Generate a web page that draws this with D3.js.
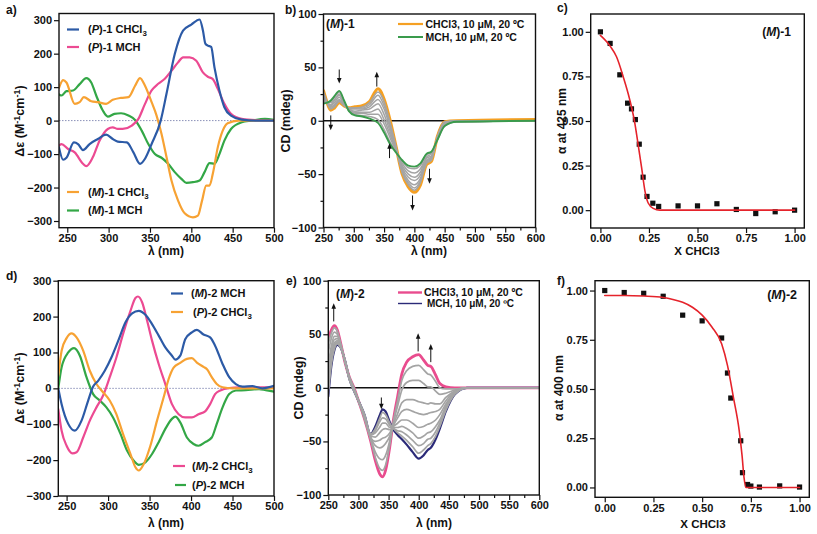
<!DOCTYPE html>
<html><head><meta charset="utf-8">
<script src="https://cdn.jsdelivr.net/npm/d3@7"></script>
<style>
body{margin:0;background:#fff}
svg{display:block}
text{font-family:"Liberation Sans",Arial,sans-serif;font-weight:bold;fill:#111}
</style>
</head><body>
<svg id="c" width="817" height="534"></svg>
<script>
// ---------------- Panel a ----------------
const aTicksX = [250, 300, 350, 400, 450, 500];
const aTicksY = [-300, -200, -100, 0, 100, 200, 300];
const aP1CHCl3_nm = [240,245,249,258,263,269,277,287,297,305,311,322,330,338,344,352,363,370,380,390,400,410,414,417,420,424,428,434,440,448,461,480,500];
const aP1CHCl3    = [-80,-117,-111,-65,-70,-88,-70,-55,-42,-55,-63,-65,-95,-129,-114,-70,0,80,199,269,287,302,270,230,224,220,159,90,40,15,3,0,0];
const aP1MCH_nm = [240,243,251,259,269,273,281,289,299,305,311,317,328,336,344,352,360,368,376,384,390,398,406,414,420,426,432,440,448,461,480,500];
const aP1MCH    = [-75,-70,-85,-95,-129,-136,-109,-60,-25,-20,-25,-25,-15,5,50,90,110,125,149,174,189,189,179,144,131,124,95,50,20,5,1,0];
const aM1CHCl3_nm = [240,245,249,259,265,270,279,287,297,305,315,324,332,338,344,352,358,364,370,376,384,392,402,408,413,418,422,426,432,438,444,457,480,500];
const aM1CHCl3    = [98,121,114,50,55,70,58,55,50,62,68,70,104,127,104,55,15,-40,-109,-179,-239,-277,-289,-284,-239,-194,-194,-159,-80,-30,-8,0,0,0];
const aM1MCH_nm = [240,243,249,257,265,273,279,285,293,299,307,315,324,332,340,348,356,364,372,380,388,394,402,410,416,422,428,434,440,448,461,473,489,500];
const aM1MCH    = [78,75,88,90,109,127,114,75,30,12,20,22,15,2,-30,-70,-100,-111,-129,-154,-174,-186,-184,-179,-154,-127,-129,-100,-60,-25,-5,0,5,2];

// ---------------- Panel b ----------------
const bTicksX = [250, 300, 350, 400, 450, 500, 550, 600];
const bTicksY = [-100, -50, 0, 50, 100];
const bWavelength = [250,256,262,268,276,284,292,302,314,326,340,350,360,370,380,390,400,410,420,428,438,450,470,600];
const bCHCl3 = [28,17,10,12,17,14,12,13,14,18,30,20,0,-25,-50,-62,-67,-60,-41,-38,-15,-1,0,1];
const bMCH   = [16,17,19,23,28,19,9,5,4,2,-2,-11,-22,-30,-37,-42,-43,-40,-31,-29,-18,-5,-1,0];
const bTitration = [
  [17,17,18,22,27,18,9,6,5,4,1,-8,-20,-29,-38,-44,-45,-42,-32,-30,-18,-5,-1,0],
  [19,17,17,20,25,18,10,7,7,6,6,-3,-16,-29,-40,-47,-49,-45,-34,-31,-17,-4,-1,0],
  [21,17,15,19,24,17,10,8,8,8,11,1,-13,-28,-42,-50,-53,-48,-35,-33,-17,-3,-1,0],
  [23,17,14,17,22,16,11,9,10,11,16,6,-10,-27,-44,-53,-56,-51,-37,-34,-16,-3,0,0],
  [24,17,13,15,20,16,11,11,11,13,20,11,-7,-27,-46,-56,-60,-54,-38,-35,-16,-2,0,0],
  [26,17,12,14,19,15,12,12,12,15,24,14,-4,-26,-48,-58,-63,-56,-39,-36,-15,-2,0,0],
  [27,17,11,13,18,14,12,12,13,17,27,18,-2,-25,-49,-60,-65,-58,-40,-37,-15,-1,0,0]
];
const bArrows = [[262,5,-9],[276,48,35],[338,32,46],[359,-35,-21],[397,-70,-84],[425,-45,-59]];

// ---------------- Panel c ----------------
const cTicks = [0, 0.25, 0.5, 0.75, 1.0];
const cX = [0,0.05,0.1,0.14,0.16,0.18,0.2,0.22,0.24,0.27,0.3,0.4,0.5,0.6,0.7,0.8,0.9,1.0];
const cY = [1.0,0.935,0.759,0.60,0.568,0.508,0.37,0.185,0.077,0.039,0.021,0.024,0.024,0.036,0.004,-0.019,-0.009,0.0];
const cFitX = [0,0.05,0.083,0.117,0.151,0.177,0.194,0.212,0.229,0.246,0.272,0.306,0.5,1.0];
const cFitY = [0.98,0.92,0.86,0.75,0.62,0.49,0.37,0.24,0.11,0.04,0.01,0.0,0.0,0.0];

// ---------------- Panel d ----------------
const dTicksX = [250, 300, 350, 400, 450, 500];
const dTicksY = [-300, -200, -100, 0, 100, 200, 300];
const dM2MCH_nm = [240,244,252,260,268,276,282,288,296,304,313,321,329,337,345,353,361,369,377,381,387,393,401,407,415,423,429,438,446,454,462,474,486,500];
const dM2MCH    = [0,-44,-99,-118,-90,-34,5,21,49,86,137,184,209,216,205,179,147,114,91,80,91,137,156,163,150,142,119,68,31,12,5,6,0,7];
const dP2CHCl3_nm = [240,244,250,256,262,270,278,286,294,302,310,318,327,333,337,343,351,359,367,373,379,387,395,401,407,415,419,425,431,438,450,500];
const dP2CHCl3    = [35,105,140,153,142,105,49,12,-11,-34,-72,-127,-183,-220,-229,-211,-160,-90,-25,26,58,71,82,84,72,60,54,31,12,3,0,0];
const dM2CHCl3_nm = [240,244,250,257,262,270,278,286,294,302,310,318,327,333,336,341,347,353,361,369,377,385,393,401,409,417,423,429,436,446,458,500];
const dM2CHCl3    = [-58,-118,-160,-181,-178,-137,-90,-53,-20,31,86,151,216,252,256,240,189,133,68,12,-44,-72,-81,-81,-72,-64,-44,-16,-5,1,3,3];
const dP2MCH_nm = [240,244,252,259,266,274,282,290,298,306,315,323,331,337,345,353,361,369,377,381,387,395,403,409,417,425,431,438,446,454,466,482,490,500];
const dP2MCH    = [0,59,100,112,91,31,-16,-34,-53,-81,-127,-174,-202,-213,-206,-183,-150,-113,-85,-79,-95,-137,-155,-160,-150,-137,-99,-53,-16,-6,-5,-2,-5,-9];

// ---------------- Panel e ----------------
const eTicksX = [250, 300, 350, 400, 450, 500, 550, 600];
const eTicksY = [-100, -50, 0, 50, 100];
const eWavelength = [250,255,260,265,270,278,285,292,300,310,320,328,335,340,345,352,358,365,372,380,390,400,408,415,420,428,435,445,460,480,600];
const eCHCl3 = [46,54,58,54,43,23,10,1,-12,-29,-49,-68,-80,-83,-77,-55,-30,-8,13,24,29,31,26,21,20,12,4,1,0,0,0];
const eMCH   = [-8,20,35,40,38,25,8,-2,-12,-25,-43,-36,-26,-20,-22,-32,-39,-44,-48,-53,-60,-66,-63,-58,-56,-48,-38,-22,-6,0,0];
const eTitration = [
  [41,51,56,53,42,23,10,1,-12,-29,-48,-65,-75,-77,-72,-53,-31,-12,7,16,20,21,17,13,12,6,0,-1,-1,0,0],
  [33,46,52,50,42,24,10,0,-12,-28,-47,-60,-66,-67,-63,-49,-32,-17,-2,5,7,7,4,1,1,-3,-6,-5,-2,0,0],
  [22,39,48,48,41,24,9,0,-12,-27,-46,-54,-56,-55,-52,-45,-34,-24,-14,-11,-11,-13,-14,-15,-14,-15,-15,-9,-3,0,0],
  [15,35,45,46,40,24,9,-1,-12,-27,-46,-50,-49,-47,-46,-42,-35,-28,-22,-20,-22,-24,-25,-24,-23,-22,-20,-12,-3,0,0],
  [8,30,42,44,40,24,9,-1,-12,-26,-45,-46,-42,-39,-38,-39,-36,-33,-30,-30,-33,-37,-36,-34,-33,-30,-25,-15,-4,0,0],
  [3,27,40,43,39,25,8,-1,-12,-26,-44,-42,-37,-33,-33,-37,-37,-37,-36,-38,-42,-47,-45,-42,-41,-36,-30,-17,-5,0,0],
  [-2,24,38,42,39,25,8,-2,-12,-25,-44,-40,-32,-28,-29,-35,-38,-40,-41,-44,-49,-54,-52,-48,-47,-41,-33,-19,-5,0,0],
  [-5,22,36,41,38,25,8,-2,-12,-25,-43,-38,-29,-23,-25,-33,-38,-42,-45,-49,-55,-61,-58,-54,-52,-45,-36,-21,-6,0,0]
];
const eArrows = [[259,62,79],[338,-9,-20],[399,34,51],[420,24,41]];

// ---------------- Panel f ----------------
const fTicks = [0, 0.25, 0.5, 0.75, 1.0];
const fX = [0,0.1,0.2,0.3,0.4,0.5,0.6,0.63,0.647,0.698,0.707,0.733,0.75,0.794,0.898,1.0];
const fY = [1.0,0.99,0.986,0.971,0.875,0.846,0.759,0.581,0.454,0.237,0.075,0.015,0.007,0.002,0.008,0.002];
const fFitX = [0,0.1,0.2,0.3,0.35,0.4,0.45,0.5,0.55,0.6,0.63,0.66,0.69,0.705,0.715,0.725,0.75,1.0];
const fFitY = [0.975,0.975,0.972,0.965,0.955,0.94,0.915,0.875,0.815,0.73,0.62,0.46,0.29,0.16,0.05,0.0,0.0,0.0];

// colours
const C = {blue:'#2c5aa6', pink:'#ec4a92', orange:'#f7a233', green:'#33a746',
           bOrange:'#f5a023', bGreen:'#3a9b4c', ePink:'#e94c8e', eNavy:'#2b2a78',
           grey:'#a4a4a4', red:'#e5232b'};

const svg = d3.select('#c');
svg.append('rect').attr('width',817).attr('height',534).attr('fill','#fff');
const defs = svg.append('defs');
let clipId = 0;

function rich(sel, parts) {
  let shift = 0;
  parts.forEach(p => {
    const t = p[0], s = p[1];
    const ts = sel.append('tspan').text(t);
    let target = 0;
    if (s === 'sub') target = 3;
    if (s === 'sup') target = -4;
    if (target !== shift) { ts.attr('dy', target - shift); shift = target; }
    if (s === 'sub' || s === 'sup') ts.attr('font-size', '0.72em');
    if (s === 'i') ts.attr('font-style', 'italic');
  });
}

function panel(o) {
  const x = d3.scaleLinear().domain(o.xd).range([o.l, o.r]);
  const y = d3.scaleLinear().domain(o.yd).range([o.b, o.t]);
  const g = svg.append('g');
  const id = 'clip' + (clipId++);
  defs.append('clipPath').attr('id', id).append('rect')
    .attr('x', o.l).attr('y', o.t).attr('width', o.r - o.l).attr('height', o.b - o.t);
  const plot = g.append('g').attr('clip-path', `url(#${id})`);
  const styleAxis = ax => {
    ax.select('.domain').remove();
    ax.selectAll('line').attr('stroke', '#111').attr('stroke-width', 1.2);
    ax.selectAll('text').attr('font-size', o.fs || 11).attr('fill', '#111')
      .attr('font-family', '"Liberation Sans",Arial,sans-serif').attr('font-weight', 'bold');
  };
  const xa = g.append('g').attr('transform', `translate(0,${o.b})`)
    .call(d3.axisBottom(x).tickValues(o.xt).tickFormat(o.xf).tickSize(5).tickPadding(1.5));
  styleAxis(xa);
  const ya = g.append('g').attr('transform', `translate(${o.l},0)`)
    .call(d3.axisLeft(y).tickValues(o.yt).tickFormat(o.yf).tickSize(5).tickPadding(2));
  styleAxis(ya);
  if (o.xm) {
    const m = g.append('g').attr('transform', `translate(0,${o.b})`)
      .call(d3.axisBottom(x).tickValues(o.xm).tickFormat('').tickSize(3));
    styleAxis(m);
  }
  if (o.ym) {
    const m = g.append('g').attr('transform', `translate(${o.l},0)`)
      .call(d3.axisLeft(y).tickValues(o.ym).tickFormat('').tickSize(3));
    styleAxis(m);
  }
  g.append('rect').attr('x', o.l).attr('y', o.t).attr('width', o.r - o.l).attr('height', o.b - o.t)
    .attr('fill', 'none').attr('stroke', '#111').attr('stroke-width', 1.4);
  return {x, y, g, plot};
}

const line = (x, y) => d3.line().x(d => x(d[0])).y(d => y(d[1])).curve(d3.curveMonotoneX);
const zip = (a, b) => a.map((v, i) => [v, b[i]]);

function drawSeries(p, xs, ys, color, w) {
  p.plot.append('path').datum(zip(xs, ys)).attr('d', line(p.x, p.y))
    .attr('fill', 'none').attr('stroke', color).attr('stroke-width', w)
    .attr('stroke-linejoin', 'round').attr('stroke-linecap', 'round');
}

function legendItem(g, x1, x2, yy, color, w, tx, parts, fs) {
  g.append('line').attr('x1', x1).attr('x2', x2).attr('y1', yy).attr('y2', yy)
    .attr('stroke', color).attr('stroke-width', w);
  const t = g.append('text').attr('x', tx).attr('y', yy).attr('dy', '0.36em').attr('font-size', fs || 11);
  rich(t, parts);
}

function label(x, y, txt, fs, anchor) {
  return svg.append('text').attr('x', x).attr('y', y).attr('font-size', fs || 12)
    .attr('text-anchor', anchor || 'start').text(txt);
}
function ylabel(x, y, parts, fs) {
  const t = svg.append('text').attr('transform', `translate(${x},${y}) rotate(-90)`)
    .attr('text-anchor', 'middle').attr('font-size', fs || 12.5);
  rich(t, parts);
}
function xlabel(x, y, parts, fs) {
  const t = svg.append('text').attr('x', x).attr('y', y).attr('text-anchor', 'middle').attr('font-size', fs || 12);
  rich(t, parts);
}

function arrows(p, list) {
  list.forEach(a => {
    const px = p.x(a[0]), y1 = p.y(a[1]), y2 = p.y(a[2]);
    const dir = y2 < y1 ? 1 : -1; // 1 = pointing up
    p.g.append('line').attr('x1', px).attr('x2', px).attr('y1', y1).attr('y2', y2 + dir * 4)
      .attr('stroke', '#111').attr('stroke-width', 1);
    p.g.append('path')
      .attr('d', `M${px},${y2} L${px - 2.3},${y2 + dir * 5.5} L${px + 2.3},${y2 + dir * 5.5} Z`)
      .attr('fill', '#111');
  });
}

function zeroDotted(p, xd) {
  p.plot.append('line').attr('x1', p.x(xd[0])).attr('x2', p.x(xd[1])).attr('y1', p.y(0)).attr('y2', p.y(0))
    .attr('stroke', '#8a90b8').attr('stroke-width', 1).attr('stroke-dasharray', '1.5,1.5');
}
function zeroSolid(p, xd) {
  p.plot.append('line').attr('x1', p.x(xd[0])).attr('x2', p.x(xd[1])).attr('y1', p.y(0)).attr('y2', p.y(0))
    .attr('stroke', '#111').attr('stroke-width', 1.5);
}

const fmt2 = d3.format('.2f');

// ===== Panel a =====
const pa = panel({l:59, r:274, t:13.5, b:227.7, xd:[240,500], yd:[-320,320], xt:aTicksX, yt:aTicksY});
zeroDotted(pa, [240,500]);
drawSeries(pa, aM1MCH_nm, aM1MCH, C.green, 2.2);
drawSeries(pa, aP1MCH_nm, aP1MCH, C.pink, 2.2);
drawSeries(pa, aM1CHCl3_nm, aM1CHCl3, C.orange, 2.2);
drawSeries(pa, aP1CHCl3_nm, aP1CHCl3, C.blue, 2.2);
legendItem(svg, 67, 79, 29.5, C.blue, 2.2, 88, [['('],['P','i'],[')-1 CHCl'],['3','sub']]);
legendItem(svg, 67, 79, 47, C.pink, 2.2, 88, [['('],['P','i'],[')-1 MCH']]);
legendItem(svg, 67, 79, 192, C.orange, 2.2, 88, [['('],['M','i'],[')-1 CHCl'],['3','sub']]);
legendItem(svg, 67, 79, 210.5, C.green, 2.2, 88, [['('],['M','i'],[')-1 MCH']]);
label(6, 14, 'a)', 12);
ylabel(24, 121, [['Δε (M'],['-1','sup'],['cm'],['-1','sup'],[')']]);
xlabel(166, 255, [['λ (nm)']]);

// ===== Panel b =====
const pb = panel({l:323.5, r:535.5, t:14, b:227.5, xd:[250,600], yd:[-100,100], xt:bTicksX, yt:bTicksY,
  xm:[275,325,375,425,475,525,575], ym:[-75,-25,25,75]});
zeroSolid(pb, [250,600]);
drawSeries(pb, bWavelength, bCHCl3, C.bOrange, 3.2);
bTitration.forEach(s => drawSeries(pb, bWavelength, s, C.grey, 1.5));
drawSeries(pb, bWavelength, bMCH, C.bGreen, 1.9);
arrows(pb, bArrows);
legendItem(svg, 398, 423, 24, C.bOrange, 2.2, 425.5, [['CHCl3, 10 μM, 20 ºC']], 10.5);
legendItem(svg, 398, 423, 37, C.bGreen, 2, 425.5, [['MCH, 10 μM, 20 ºC']], 10.5);
{ const t = svg.append('text').attr('x', 326).attr('y', 28).attr('font-size', 12); rich(t, [['('],['M','i'],[')-1']]); }
label(285, 14, 'b)', 12);
ylabel(290, 121, [['CD (mdeg)']]);
xlabel(429, 255, [['λ (nm)']]);

// ===== Panel c =====
const pc = panel({l:590.7, r:804.3, t:14, b:228, xd:[-0.05,1.05], yd:[-0.1,1.1], xt:cTicks, yt:cTicks, xf:fmt2, yf:fmt2});
pc.plot.selectAll('rect.pt').data(zip(cX, cY)).enter().append('rect')
  .attr('x', d => pc.x(d[0]) - 2.6).attr('y', d => pc.y(d[1]) - 2.6).attr('width', 5.2).attr('height', 5.2).attr('fill', '#111');
drawSeries(pc, cFitX, cFitY, C.red, 1.6);
{ const t = svg.append('text').attr('x', 791).attr('y', 36).attr('font-size', 12).attr('text-anchor', 'end'); rich(t, [['('],['M','i'],[')-1']]); }
label(557, 12, 'c)', 12);
ylabel(566, 121, [['α at 425 nm']], 12);
xlabel(697, 255, [['X CHCl3']], 11.5);

// ===== Panel d =====
const pd = panel({l:58.3, r:274, t:280.7, b:496, xd:[240,500], yd:[-300,300], xt:dTicksX, yt:dTicksY});
zeroDotted(pd, [240,500]);
drawSeries(pd, dP2MCH_nm, dP2MCH, C.green, 2.2);
drawSeries(pd, dM2CHCl3_nm, dM2CHCl3, C.pink, 2.2);
drawSeries(pd, dP2CHCl3_nm, dP2CHCl3, C.orange, 2.2);
drawSeries(pd, dM2MCH_nm, dM2MCH, C.blue, 2.2);
legendItem(svg, 171, 183, 293.5, C.blue, 2.2, 191, [['('],['M','i'],[')-2 MCH']]);
legendItem(svg, 171, 183, 312, C.orange, 2.2, 193, [['('],['P','i'],[')-2 CHCl'],['3','sub']]);
legendItem(svg, 173, 185, 466, C.pink, 2.2, 192, [['('],['M','i'],[')-2 CHCl'],['3','sub']]);
legendItem(svg, 175, 186, 485, C.green, 2.2, 192, [['('],['P','i'],[')-2 MCH']]);
label(6, 280, 'd)', 12);
ylabel(24, 388, [['Δε (M'],['-1','sup'],['cm'],['-1','sup'],[')']]);
xlabel(166, 527, [['λ (nm)']]);

// ===== Panel e =====
const pe = panel({l:328.3, r:539.3, t:280.7, b:495, xd:[250,600], yd:[-100,100], xt:eTicksX, yt:eTicksY,
  xm:[275,325,375,425,475,525,575], ym:[-75,-25,25,75]});
zeroSolid(pe, [250,600]);
drawSeries(pe, eWavelength, eCHCl3, C.ePink, 2.8);
drawSeries(pe, eWavelength, eMCH, C.eNavy, 2.2);
eTitration.forEach(s => drawSeries(pe, eWavelength, s, C.grey, 1.7));
arrows(pe, eArrows);
legendItem(svg, 398, 422, 292.5, C.ePink, 2.4, 424, [['CHCl3, 10 μM, 20 ºC']], 10.5);
legendItem(svg, 398, 422, 303.5, C.eNavy, 1.4, 427, [['MCH, 10 μM, 20 ºC']], 10);
{ const t = svg.append('text').attr('x', 336).attr('y', 298).attr('font-size', 12); rich(t, [['('],['M','i'],[')-2']]); }
label(286, 285, 'e)', 12);
ylabel(303, 388, [['CD (mdeg)']]);
xlabel(434, 527, [['λ (nm)']]);

// ===== Panel f =====
const pf = panel({l:595, r:809.3, t:280.7, b:497.3, xd:[-0.05,1.05], yd:[-0.05,1.05], xt:fTicks, yt:fTicks, xf:fmt2, yf:fmt2});
pf.plot.selectAll('rect.pt').data(zip(fX, fY)).enter().append('rect')
  .attr('x', d => pf.x(d[0]) - 2.6).attr('y', d => pf.y(d[1]) - 2.6).attr('width', 5.2).attr('height', 5.2).attr('fill', '#111');
drawSeries(pf, fFitX, fFitY, C.red, 1.6);
{ const t = svg.append('text').attr('x', 797).attr('y', 299).attr('font-size', 12.5).attr('text-anchor', 'end'); rich(t, [['('],['M','i'],[')-2']]); }
label(557, 285, 'f)', 12);
ylabel(563, 388, [['α at 400 nm']], 12);
xlabel(703, 528, [['X CHCl3']], 11.5);
</script>
</body></html>
